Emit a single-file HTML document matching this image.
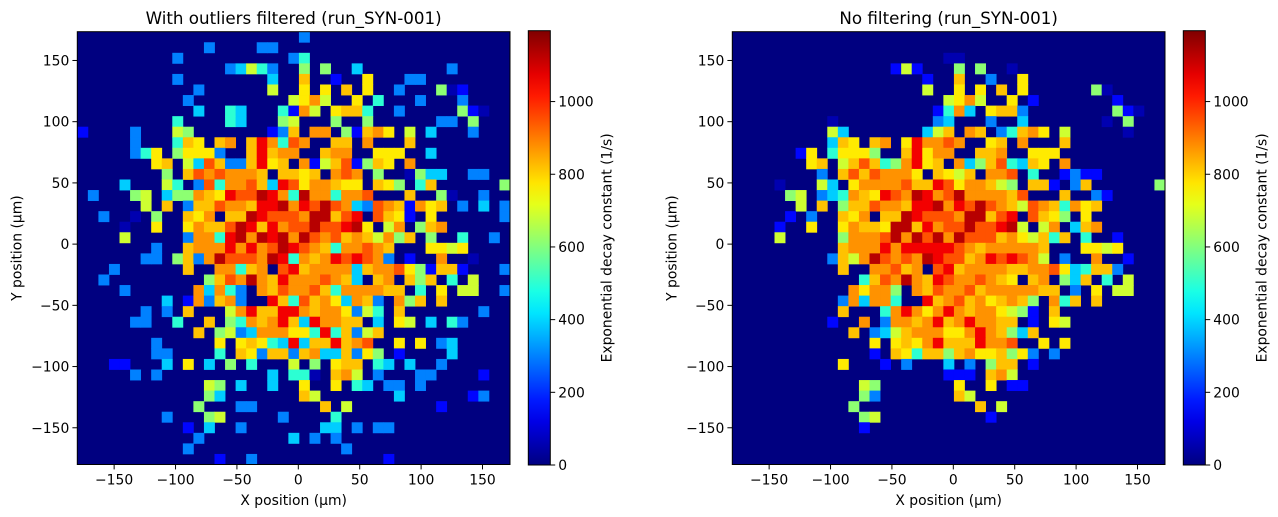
<!DOCTYPE html>
<html><head><meta charset="utf-8">
<style>
html,body{margin:0;padding:0;background:#fff;}
svg{display:block;font-family:"DejaVu Sans","Liberation Sans",sans-serif;}
</style></head>
<body>
<svg id="fig" width="1278" height="517" viewBox="0 0 1278 517" xmlns="http://www.w3.org/2000/svg">
<defs><linearGradient id="jetgrad" x1="0" y1="1" x2="0" y2="0"></linearGradient></defs>
</svg>
<script>
const xTicks=[-150,-100,-50,0,50,100,150];
const yTicks=[-150,-100,-50,0,50,100,150];
const cbTicks=[0,200,400,600,800,1000];
const codeKeys="123456789abcd";
const codeValues=[57,155,300,390,500,613,690,770,818,875,950,1060,1130];
const leftRows=[
"21:3","12:3 17:33","9:3 20:35","14:34753 21:6 23:6 26:4 35:3","9:3 18:4 21:9 24:2 27:8 31:33",
"11:3 18:7 21:8 23:8 25:9 27:8 30:3 34:612","10:3 20:78a7 26:8 28:5 32:3 36:3","11:4 14:54 19:52a7.8995 30:3 36:621",
"9:5 14:54 19:67 24:6 27:6 34:33 37:6","0:2 5:3 9:76 18:239.aa.629a8.7.4 37:3","5:3 9:598.9a.9ca5ba..99.a 31:9",
"5:358.6888 13:3 16:9c9aa 23:9aa 28:888 33:4","7:89.74b9339c89.a279b2698.a","8:6.9babaaa9.9989.aba.6..1644 37:33",
"4:4 8:75.3b5aab94cb8aa988.986.59 40:6","1:3 5:67.466a98cbbdca5daa5aab 31:9 34:61 38:3",
"6:7.9.399baa9ccdacbdba43ba92a89.3.4.3","2:3 5:1.6..98a.99dcbbbadd9bc.b982.8 40:3",
"4:1 7:8..8a99bdc9cabbdbbcd8.7a.69a","4:7 10:3aa5cdadcdadbab9a97a69.6 36:5 39:3",
"7:3..9aaacacabdcba95aaba9...8878","6:33.693adbbbadc5a9acbcba3.2 34:a 37:1","3:3 10:9..aa59a.bc9aaaa49aab862992 40:3",
"2:3 12:69bada9caaaba94.9a.969.5.7","4:3 11:a4a53.a9baab95aaaa99.5.8.77 40:3","8:4.2a39a3..c95b9a84a93.a69.9",
"6:3.3.9...7ac99cca9aa8375.9 38:3","5:33..5..9.65a9ac94caa99.4.87.4.53","11:9.6734aaa885c59379",
"7:3 13:8.89854c499c9ab..8.8.34","7:33 13:5.9839939a449386.2 35:4","3:22 8:4.8.4.6.5...7.6.899.54.4 34:3",
"5:3.3 18:4.551.9a7.3 32:33 38:2","12:76.4..4..8..8.54.33.3","12:64 21:97 30:4 37:23","11:6 15:33 23:9.7 34:2",
"8:3 12:67 19:3 24:5","10:2.4..3 23:44.3.33","11:3 20:4.3.3","10:3 25:3","13:2 16:3 29:2"
];
const rightRows=[
"","","20:11","15:272 21:6.6..1","18:2 21:9 24:3 27:8","18:7 21:8.8.9.8 34:61","20:78a7 26:8.2 36:2",
"19:25a4.8993 36:621","9:1 19:34 24:3 27:4 35:1.6","9:74 18:479.a9.359a8.7 37:1","9:498.9a.8caaba..89.a...9",
"6:28.58886..9c8aa..99a..888","7:89.79b956ac89.a469b5498.a","8:3.9b9baaa8.9879.aab.5..2322",
"4:1 8:74.8aaaab99cb8aa976.992.39 40:6","5:67.345a98cbadcabdaaaa9b...9..32","6:7.9.699baa9ccdacbdba97ba95a89",
"5:2.3..98a.99dcbbbadd9bc.b986.8","4:2 7:8..8a998dd9cabbdbbcd7.7a.49a","4:7 10:6aaabdadbdadbbb9a87959.5 36:2",
"10:9aaacacccccba9aaaaa9...8878","9:397adbabadcbb9acbcba7.3 34:a 37:2","10:9..aab9a.bc9aaaa99aab845993",
"12:59bada9cbaaba98.9a.649.5.7","11:a8aa6.a9baab9aaaaa99.3.8.77","10:3a4aa5..c9ab9a89a96.a59.9",
"10:9...5aca8aca9aa8762.9","9:2..a.3aa9ac9acaa99.2.87","11:9.3479aaa88aca9649","13:8.898ac999caab..8.8",
"13:2.9859969a889683.3","10:8 14:2.3 20:4.3.699.2","20:222.9a7","12:76 21:8..8.22","12:63 21:97","11:6 23:9.7",
"12:67 24:2","12:2","","",""
];
const NB=41, XMIN=-180, XMAX=172.4, YMIN=-180, YMAX=173.5, VMAX=1195;
const AX_L=77.3, AX_T=31.7, AX_W=432.7, AX_H=432.8;
const NS="http://www.w3.org/2000/svg";
const svg=document.getElementById('fig');
function jet(v){const x=Math.max(0,Math.min(1,v/VMAX));const c=t=>Math.round(255*Math.max(0,Math.min(1,1.5-Math.abs(4*x-t))));return `rgb(${c(3)},${c(2)},${c(1)})`;}
function decode(s){const a=new Array(NB).fill(0);if(!s)return a;s.split(' ').forEach(seg=>{const p=seg.split(':');let c=parseInt(p[0]);for(const ch of p[1]){const k=codeKeys.indexOf(ch);if(k>=0&&c<NB)a[c]=codeValues[k];c++;}});return a;}
function el(tag,attrs,parent){const e=document.createElementNS(NS,tag);for(const k in attrs)e.setAttribute(k,attrs[k]);(parent||svg).appendChild(e);return e;}
function fmt(v){return v<0?'\u2212'+Math.abs(v):String(v);}
const g=document.getElementById('jetgrad');
for(let i=0;i<=20;i++){el('stop',{offset:(i/20),'stop-color':jet(i/20*VMAX)},g);}
function panel(ox,rows,title,name){
  const L=AX_L+ox;
  const xs=v=>L+(v-XMIN)/(XMAX-XMIN)*AX_W;
  const ys=v=>AX_T+(YMAX-v)/(YMAX-YMIN)*AX_H;
  const grp=el('g',{});
  
  
  const bg=el('rect',{x:L,y:AX_T,width:AX_W,height:AX_H,fill:jet(0)},grp);
  
  
  const bwx=(XMAX-XMIN)/NB, bwy=(YMAX-YMIN)/NB;
  rows.forEach((rs,r)=>{const vals=decode(rs);vals.forEach((v,c)=>{if(v<=0)return;
    const x0=xs(XMIN+c*bwx),x1=xs(XMIN+(c+1)*bwx),y0=ys(YMAX-r*bwy),y1=ys(YMAX-(r+1)*bwy);
    const cell=el('rect',{x:x0,y:y0,width:x1-x0+0.4,height:y1-y0+0.4,fill:jet(v)},grp);
    
    
  });});
  const fr=el('rect',{x:L,y:AX_T,width:AX_W,height:AX_H,fill:'none',stroke:'#000','stroke-width':1},grp);
  
  
  xTicks.forEach(t=>{const x=xs(t);el('line',{x1:x,x2:x,y1:AX_T+AX_H,y2:AX_T+AX_H+4.9,stroke:'#000'},grp);
    const tx=el('text',{x:x,y:AX_T+AX_H+20,'font-size':13.9,'text-anchor':'middle',fill:'#000'},grp);tx.textContent=fmt(t);
    
    });
  yTicks.forEach(t=>{const y=ys(t);el('line',{x1:L-4.9,x2:L,y1:y,y2:y,stroke:'#000'},grp);
    const tx=el('text',{x:L-8,y:y+5,'font-size':13.9,'text-anchor':'end',fill:'#000'},grp);tx.textContent=fmt(t);
    
    });
  const xl=el('text',{x:L+AX_W/2,y:505,'font-size':13.9,'text-anchor':'middle'},grp);xl.textContent='X position (\u00b5m)';
  
  
  const yl=el('text',{x:0,y:0,'font-size':13.9,'text-anchor':'middle',transform:`translate(${L-56},${AX_T+AX_H/2}) rotate(-90)`},grp);yl.textContent='Y position (\u00b5m)';
  
  
  const tt=el('text',{x:L+AX_W/2,y:24,'font-size':16.7,'text-anchor':'middle'},grp);tt.textContent=title;
  
  
  // colorbar
  const CBL=528.3+ox, CBW=22, CBT=30.7, CBB=465;
  const cb=el('rect',{x:CBL,y:CBT,width:CBW,height:CBB-CBT,fill:'url(#jetgrad)',stroke:'#000','stroke-width':1},grp);
  
  
  const cs=v=>CBB-v/VMAX*(CBB-CBT);
  cbTicks.forEach(t=>{const y=cs(t);el('line',{x1:CBL+CBW,x2:CBL+CBW+4.9,y1:y,y2:y,stroke:'#000'},grp);
    const tx=el('text',{x:CBL+CBW+8,y:y+5,'font-size':13.9},grp);tx.textContent=String(t);
    
    });
  const cl=el('text',{x:0,y:0,'font-size':13.9,'text-anchor':'middle',transform:`translate(${CBL+83},${(CBT+CBB)/2}) rotate(-90)`},grp);cl.textContent='Exponential decay constant (1/s)';
  
  
}
panel(0,leftRows,'With outliers filtered (run_SYN-001)','filtered');
panel(655,rightRows,'No filtering (run_SYN-001)','unfiltered');
</script>
</body></html>
